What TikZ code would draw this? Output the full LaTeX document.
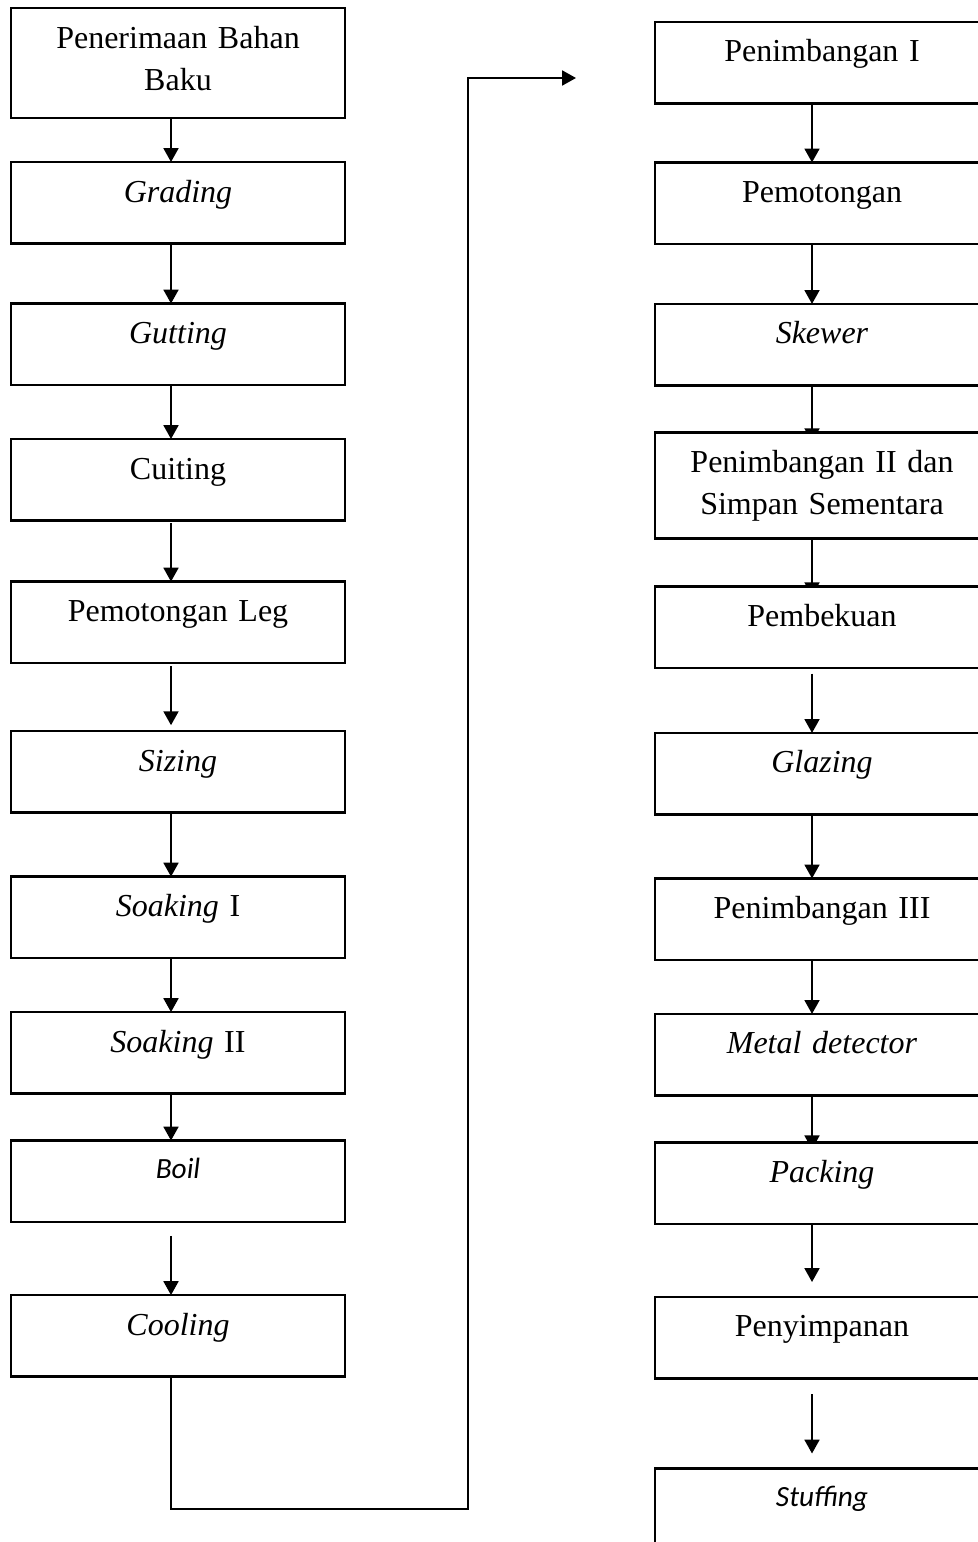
\documentclass[tikz,border=0pt]{standalone}
\usepackage{fontspec}
\setmainfont{Liberation Serif}
\newfontfamily\calibri{Carlito}
\usetikzlibrary{positioning,arrows.meta,backgrounds}

\begin{document}
\begin{tikzpicture}[x=0.375pt, y=-0.375pt,
    stepbox/.style={draw, fill=white, line width=0.9pt, outer sep=0pt,
      inner xsep=0pt, inner ysep=0pt, text width=125.25pt, align=center,
      text height=15pt, text depth=15.5625pt,
      font=\fontsize{12}{15.75}\selectfont},
    sansbox/.style={stepbox, text height=14.25pt, text depth=16.3125pt,
      font=\calibri\itshape\fontsize{11}{13.4}\selectfont},
    flow/.style={line width=0.75pt, -{Triangle[width=5.6pt,length=5.2pt]}}]
      \useasboundingbox (0,0) rectangle (978,1542);
      \clip (0,0) rectangle (978,1542);
      % left column
      \node[stepbox, anchor=north, text depth=26.25pt] (terima) at (178,8) {Penerimaan Bahan\\Baku};
      \node[stepbox, below=16.5pt of terima] (grading) {\textit{Grading}};
      \node[stepbox, below=22.5pt of grading] (gutting) {\textit{Gutting}};
      \node[stepbox, below=20.25pt of gutting] (cuiting) {Cuiting};
      \node[stepbox, below=22.9pt of cuiting] (leg) {Pemotongan Leg};
      \node[stepbox, below=25.5pt of leg] (sizing) {\textit{Sizing}};
      \node[stepbox, below=24pt of sizing] (soak1) {\textit{Soaking} I};
      \node[stepbox, below=20.25pt of soak1] (soak2) {\textit{Soaking} II};
      \node[sansbox, below=17.6pt of soak2] (boil) {Boil};
      \node[stepbox, below=27.4pt of boil] (cooling) {\textit{Cooling}};
      % right column
      \node[stepbox, anchor=north] (timbang1) at (822,22) {Penimbangan I};
      \node[stepbox, below=22.1pt of timbang1] (potong) {Pemotongan};
      \node[stepbox, below=22.5pt of potong] (skewer) {\textit{Skewer}};
      \node[stepbox, below=17.6pt of skewer, text depth=24.75pt] (timbang2) {Penimbangan II dan\\Simpan Sementara};
      \node[stepbox, below=18pt of timbang2] (beku) {Pembekuan};
      \node[stepbox, below=24.4pt of beku] (glazing) {\textit{Glazing}};
      \node[stepbox, below=24pt of glazing] (timbang3) {Penimbangan III};
      \node[stepbox, below=20.25pt of timbang3] (metal) {\textit{Metal detector}};
      \node[stepbox, below=17.6pt of metal] (packing) {\textit{Packing}};
      \node[stepbox, below=27.4pt of packing] (simpan) {Penyimpanan};
      \node[sansbox, below=33.75pt of simpan] (stuffing) {Stuffing};
      \coordinate (colL) at (171,0);
      \coordinate (colR) at (812,0);
      \coordinate (turn) at (468,1509);
      \coordinate (link) at (576,78);
      \begin{scope}[on background layer]
      \draw[flow] (terima.south -| colL) -- (grading.north -| colL);
      \draw[flow] (grading.south -| colL) -- (gutting.north -| colL);
      \draw[flow] (gutting.south -| colL) -- (cuiting.north -| colL);
      \draw[flow, shorten <=1.1pt] (cuiting.south -| colL) -- (leg.north -| colL);
      \draw[flow, shorten <=1.1pt, shorten >=2.2pt] (leg.south -| colL) -- (sizing.north -| colL);
      \draw[flow] (sizing.south -| colL) -- (soak1.north -| colL);
      \draw[flow, shorten <=-1.9pt] (soak1.south -| colL) -- (soak2.north -| colL);
      \draw[flow, shorten <=-4.5pt] (soak2.south -| colL) -- (boil.north -| colL);
      \draw[flow, shorten <=5.2pt] (boil.south -| colL) -- (cooling.north -| colL);
      \draw[flow] (cooling.south -| colL) |- (turn) |- (link);
      \draw[flow] (timbang1.south -| colR) -- (potong.north -| colR);
      \draw[flow] (potong.south -| colR) -- (skewer.north -| colR);
      \draw[flow, shorten >=-3.7pt] (skewer.south -| colR) -- (timbang2.north -| colR);
      \draw[flow, shorten >=-3.7pt] (timbang2.south -| colR) -- (beku.north -| colR);
      \draw[flow, shorten <=2.2pt] (beku.south -| colR) -- (glazing.north -| colR);
      \draw[flow] (glazing.south -| colR) -- (timbang3.north -| colR);
      \draw[flow, shorten <=-1.9pt] (timbang3.south -| colR) -- (metal.north -| colR);
      \draw[flow, shorten >=-2.6pt] (metal.south -| colR) -- (packing.north -| colR);
      \draw[flow, shorten >=5.6pt] (packing.south -| colR) -- (simpan.north -| colR);
      \draw[flow, shorten <=6pt, shorten >=5.6pt] (simpan.south -| colR) -- (stuffing.north -| colR);
      \end{scope}
    \end{tikzpicture}
\end{document}
